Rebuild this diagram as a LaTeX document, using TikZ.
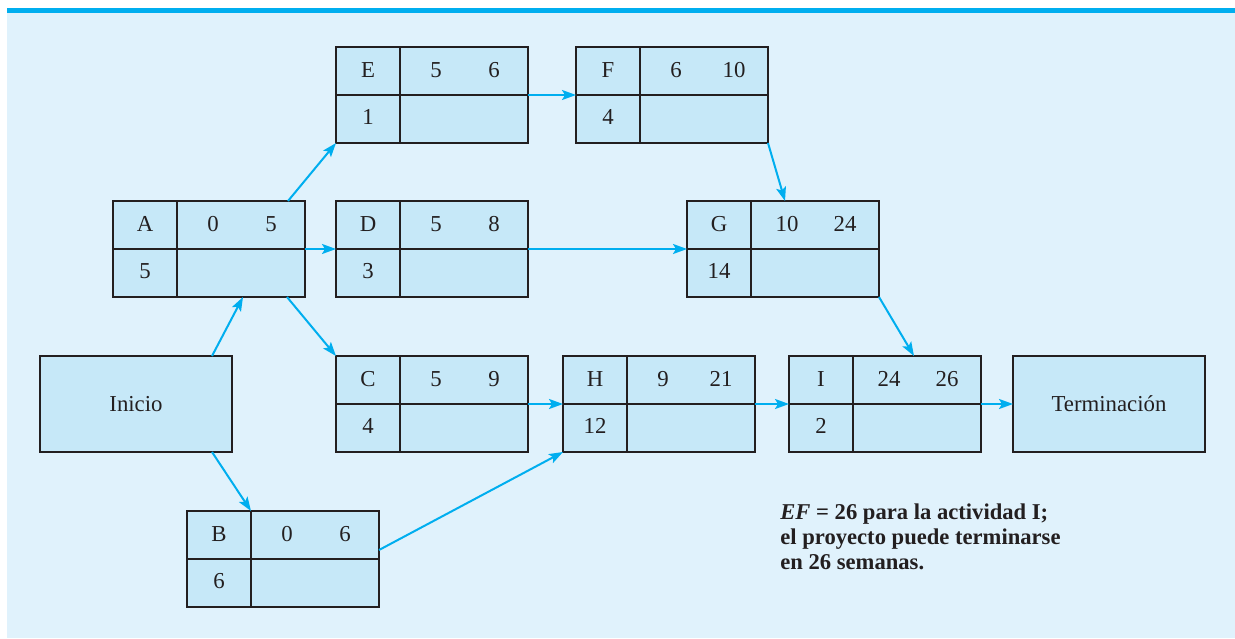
\documentclass[tikz,border=0pt]{standalone}
\usepackage{fontspec}
\setmainfont{Liberation Serif}
\usetikzlibrary{arrows.meta, calc}
\definecolor{PanelBlue}{HTML}{E0F2FC}
\definecolor{BoxBlue}{HTML}{C6E8F8}
\definecolor{FlowCyan}{HTML}{00AEEF}
\definecolor{FrameGray}{HTML}{231F20}

% activity box: name, x, y, letter, ES, EF, duration
\newcommand{\activitybox}[7]{%
  \node[actbox] (#1) at (#2,#3) {};
  \draw[cellrule] ($(#1.north west)+(64,0)$) -- ($(#1.south west)+(64,0)$);
  \draw[cellrule] (#1.west) -- (#1.east);
  \node[celltext] at ($(#1.north west)+(32,23)$) {#4};
  \node[celltext] at ($(#1.north west)+(100,23)$) {#5};
  \node[celltext] at ($(#1.north west)+(158,23)$) {#6};
  \node[celltext] at ($(#1.north west)+(32,70)$) {#7};
}

\begin{document}
\begin{tikzpicture}[
  x=0.5pt, y=-0.5pt,
  actbox/.style={rectangle, draw=FrameGray, line width=1.2pt, fill=BoxBlue,
    minimum width=96pt, minimum height=48pt, outer sep=0pt, inner sep=0pt},
  endbox/.style={actbox, font=\fontsize{11.4}{13}\selectfont, text=FrameGray},
  cellrule/.style={draw=FrameGray, line width=1.2pt},
  celltext/.style={font=\fontsize{11.4}{13}\selectfont, text=FrameGray, inner sep=0pt},
  flow/.style={-{Stealth[length=7pt, width=5pt, inset=1.5pt]}, draw=FlowCyan, line width=1pt},
  note/.style={font=\fontsize{11.3}{12.6}\selectfont\bfseries, text=FrameGray,
    align=left, inner sep=0pt}
]
  \useasboundingbox (0,0) rectangle (1235,638);
  \fill[PanelBlue] (7,13) rectangle (1235,638);
  \fill[FlowCyan] (7,8) rectangle (1235,13);

  \node[endbox] (start) at (136,404) {Inicio};
  \node[endbox] (finish) at (1109,404) {Terminación};
  \activitybox{a}{209}{249}{A}{0}{5}{5}
  \activitybox{b}{283}{559}{B}{0}{6}{6}
  \activitybox{c}{432}{404}{C}{5}{9}{4}
  \activitybox{d}{432}{249}{D}{5}{8}{3}
  \activitybox{e}{432}{95}{E}{5}{6}{1}
  \activitybox{f}{672}{95}{F}{6}{10}{4}
  \activitybox{g}{783}{249}{G}{10}{24}{14}
  \activitybox{h}{659}{404}{H}{9}{21}{12}
  \activitybox{i}{885}{404}{I}{24}{26}{2}

  \draw[flow] ($(start.north)+(76,0)$) -- ($(a.south)+(34,0)$);
  \draw[flow] ($(start.south)+(76,0)$) -- ($(b.north)+(-32,0)$);
  \draw[flow] ($(a.north)+(79,0)$) -- (e.south west);
  \draw[flow] (a.east) -- (d.west);
  \draw[flow] ($(a.south)+(78,0)$) -- (c.north west);
  \draw[flow] (e.east) -- (f.west);
  \draw[flow] (f.south east) -- ($(g.north)+(2,0)$);
  \draw[flow] (d.east) -- (g.west);
  \draw[flow] (g.south east) -- ($(i.north)+(29,0)$);
  \draw[flow] (c.east) -- (h.west);
  \draw[flow] (h.east) -- (i.west);
  \draw[flow] (i.east) -- (finish.west);
  \draw[flow] ($(b.east)+(0,-9)$) -- (h.south west);

  \node[note, anchor=north west] (summary) at (780,503)
    {\textit{EF} = 26 para la actividad I;\\el proyecto puede terminarse\\en 26 semanas.};
\end{tikzpicture}
\end{document}
